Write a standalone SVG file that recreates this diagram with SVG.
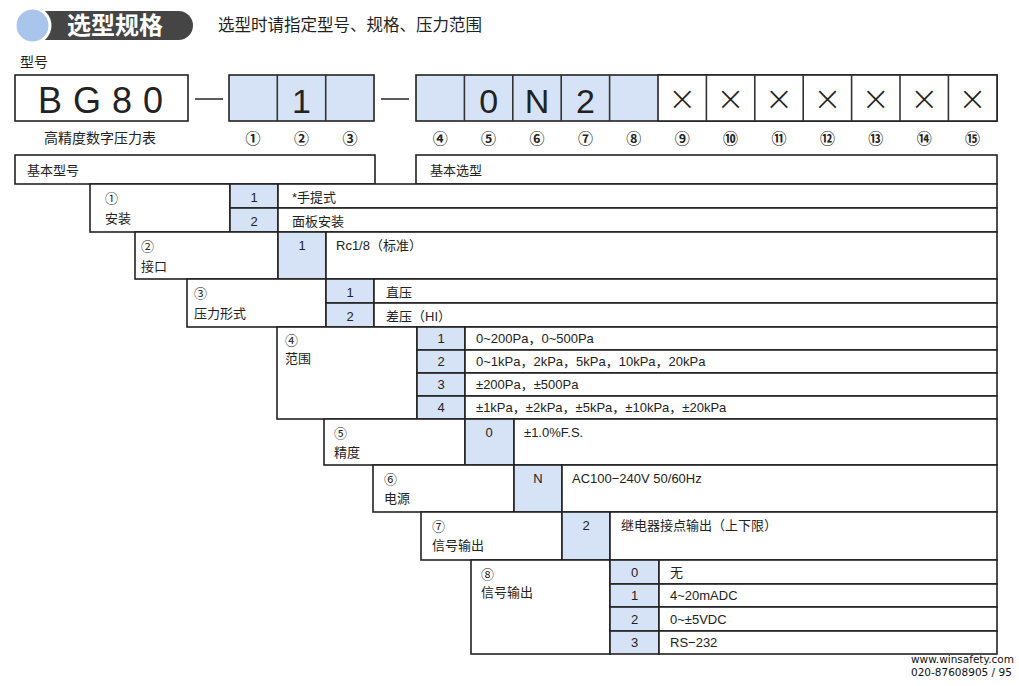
<svg xmlns="http://www.w3.org/2000/svg" width="1019" height="686" viewBox="0 0 1019 686">
<style>
text{font-family:"Liberation Sans","Noto Sans CJK SC",sans-serif;fill:#222}
.cjk{font-family:"Noto Sans CJK SC",sans-serif}
.t{font-size:13px}
.c{text-anchor:middle}
.box{fill:#fff;stroke:#222;stroke-width:1.6}
.blue{fill:#d6e3f6;stroke:#222;stroke-width:1.6}
.code{font-size:34px}
.num{font-family:"Noto Sans CJK SC",sans-serif;font-size:15px;font-weight:bold;text-anchor:middle}
.dash{stroke:#333;stroke-width:1.6}
.foot{font-family:"DejaVu Sans",sans-serif;font-size:10.5px;fill:#111}
.x{font-family:"DejaVu Sans",sans-serif;font-size:34px;font-weight:300;text-anchor:middle}
</style>

<g id="title">
  <rect x="40" y="11" width="153" height="29" rx="14.5" fill="#454545"/>
  <rect x="40" y="11" width="40" height="29" fill="#454545"/>
  <circle cx="32.5" cy="25.5" r="19" fill="#fff"/>
  <circle cx="32.5" cy="25.5" r="16" fill="#aac5ec"/>
  <text x="67" y="34" class="cjk" style="font-size:24px;font-weight:bold;fill:#fff">选型规格</text>
  <text x="218" y="31" class="cjk" style="font-size:16.5px">选型时请指定型号、规格、压力范围</text>
</g>

<g id="model">
  <text x="20" y="67" class="cjk t" style="font-size:14px">型号</text>
  <rect class="box" x="15" y="75" width="173" height="46"/>
  <text x="38" y="113" style="font-size:36px;letter-spacing:11px">BG80</text>
  <text x="100" y="143" class="cjk t c" style="font-size:14px">高精度数字压力表</text>
</g>

<g id="connectors">
  <line class="dash" x1="195" y1="99" x2="223" y2="99"/>
  <line class="dash" x1="381" y1="99" x2="409" y2="99"/>
</g>

<g id="code-group-1">
  <rect class="blue" x="229" y="75" width="145" height="46"/>
  <line class="dash" x1="277.3" y1="75" x2="277.3" y2="121"/>
  <line class="dash" x1="325.7" y1="75" x2="325.7" y2="121"/>
  <text x="301.5" y="113" class="code c">1</text>
  <text x="253" y="144" class="num">①</text>
  <text x="301.5" y="144" class="num">②</text>
  <text x="350" y="144" class="num">③</text>
</g>

<g id="code-group-2">
  <rect class="blue" x="416" y="75" width="581" height="46"/>
  <rect x="658" y="75" width="339" height="46" fill="#fff" stroke="#222" stroke-width="1.6"/>
  <g class="dash">
    <line x1="464.4" y1="75" x2="464.4" y2="121"/>
    <line x1="512.8" y1="75" x2="512.8" y2="121"/>
    <line x1="561.2" y1="75" x2="561.2" y2="121"/>
    <line x1="609.6" y1="75" x2="609.6" y2="121"/>
    <line x1="706.4" y1="75" x2="706.4" y2="121"/>
    <line x1="754.8" y1="75" x2="754.8" y2="121"/>
    <line x1="803.2" y1="75" x2="803.2" y2="121"/>
    <line x1="851.6" y1="75" x2="851.6" y2="121"/>
    <line x1="900" y1="75" x2="900" y2="121"/>
    <line x1="948.4" y1="75" x2="948.4" y2="121"/>
  </g>
  <text x="488.6" y="113" class="code c">0</text>
  <text x="537" y="113" class="code c">N</text>
  <text x="585.4" y="113" class="code c">2</text>
  <text x="682.2" y="110" class="x">×</text>
  <text x="730.6" y="110" class="x">×</text>
  <text x="779" y="110" class="x">×</text>
  <text x="827.4" y="110" class="x">×</text>
  <text x="875.8" y="110" class="x">×</text>
  <text x="924.2" y="110" class="x">×</text>
  <text x="972.6" y="110" class="x">×</text>
  <text x="440.2" y="144" class="num">④</text>
  <text x="488.6" y="144" class="num">⑤</text>
  <text x="537" y="144" class="num">⑥</text>
  <text x="585.4" y="144" class="num">⑦</text>
  <text x="633.8" y="144" class="num">⑧</text>
  <text x="682.2" y="144" class="num">⑨</text>
  <text x="730.6" y="144" class="num">⑩</text>
  <text x="779" y="144" class="num">⑪</text>
  <text x="827.4" y="144" class="num">⑫</text>
  <text x="875.8" y="144" class="num">⑬</text>
  <text x="924.2" y="144" class="num">⑭</text>
  <text x="972.6" y="144" class="num">⑮</text>
</g>

<g id="header-basic-model">
  <rect class="box" x="15" y="155" width="360" height="29"/>
  <text x="27" y="175" class="cjk t">基本型号</text>
</g>
<g id="header-basic-select">
  <rect class="box" x="416" y="155" width="581" height="29"/>
  <text x="430" y="175" class="cjk t">基本选型</text>
</g>

<g id="opt1">
  <rect class="box" x="90" y="184" width="140" height="48"/>
  <text x="105" y="203" class="t cjk">①</text>
  <text x="105" y="223" class="t cjk">安装</text>
  <rect class="blue" x="230" y="184" width="48" height="24"/>
  <rect class="blue" x="230" y="208" width="48" height="24"/>
  <rect class="box" x="278" y="184" width="719" height="24"/>
  <rect class="box" x="278" y="208" width="719" height="24"/>
  <text x="254" y="202" class="t c">1</text>
  <text x="254" y="226" class="t c">2</text>
  <text x="292" y="202" class="t">*手提式</text>
  <text x="292" y="226" class="t">面板安装</text>
</g>

<g id="opt2">
  <rect class="box" x="135" y="232" width="143" height="47"/>
  <text x="141" y="251" class="t cjk">②</text>
  <text x="141" y="271" class="t cjk">接口</text>
  <rect class="blue" x="278" y="232" width="48" height="47"/>
  <rect class="box" x="326" y="232" width="671" height="47"/>
  <text x="302" y="250" class="t c">1</text>
  <text x="336" y="250" class="t">Rc1/8（标准）</text>
</g>

<g id="opt3">
  <rect class="box" x="187" y="279" width="139" height="48"/>
  <text x="194" y="298" class="t cjk">③</text>
  <text x="194" y="318" class="t cjk">压力形式</text>
  <rect class="blue" x="326" y="279" width="48" height="24"/>
  <rect class="blue" x="326" y="303" width="48" height="24"/>
  <rect class="box" x="374" y="279" width="623" height="24"/>
  <rect class="box" x="374" y="303" width="623" height="24"/>
  <text x="350" y="297" class="t c">1</text>
  <text x="350" y="321" class="t c">2</text>
  <text x="386" y="297" class="t">直压</text>
  <text x="386" y="321" class="t">差压（HI）</text>
</g>

<g id="opt4">
  <rect class="box" x="277" y="327" width="140" height="92"/>
  <text x="285" y="345" class="t cjk">④</text>
  <text x="285" y="363" class="t cjk">范围</text>
  <rect class="blue" x="417" y="327" width="48" height="23"/>
  <rect class="blue" x="417" y="350" width="48" height="23"/>
  <rect class="blue" x="417" y="373" width="48" height="23"/>
  <rect class="blue" x="417" y="396" width="48" height="23"/>
  <rect class="box" x="465" y="327" width="532" height="23"/>
  <rect class="box" x="465" y="350" width="532" height="23"/>
  <rect class="box" x="465" y="373" width="532" height="23"/>
  <rect class="box" x="465" y="396" width="532" height="23"/>
  <text x="441" y="343" class="t c">1</text>
  <text x="441" y="366" class="t c">2</text>
  <text x="441" y="389" class="t c">3</text>
  <text x="441" y="412" class="t c">4</text>
  <text x="476" y="343" class="t">0~200Pa，0~500Pa</text>
  <text x="476" y="366" class="t">0~1kPa，2kPa，5kPa，10kPa，20kPa</text>
  <text x="476" y="389" class="t">±200Pa，±500Pa</text>
  <text x="476" y="412" class="t">±1kPa，±2kPa，±5kPa，±10kPa，±20kPa</text>
</g>

<g id="opt5">
  <rect class="box" x="324" y="419" width="141" height="46"/>
  <text x="334" y="438" class="t cjk">⑤</text>
  <text x="334" y="457" class="t cjk">精度</text>
  <rect class="blue" x="465" y="419" width="49" height="46"/>
  <rect class="box" x="514" y="419" width="483" height="46"/>
  <text x="489" y="437" class="t c">0</text>
  <text x="524" y="437" class="t">±1.0%F.S.</text>
</g>

<g id="opt6">
  <rect class="box" x="373" y="465" width="141" height="47"/>
  <text x="384" y="484" class="t cjk">⑥</text>
  <text x="384" y="503" class="t cjk">电源</text>
  <rect class="blue" x="514" y="465" width="48" height="47"/>
  <rect class="box" x="562" y="465" width="435" height="47"/>
  <text x="538" y="483" class="t c">N</text>
  <text x="572" y="483" class="t">AC100−240V  50/60Hz</text>
</g>

<g id="opt7">
  <rect class="box" x="421" y="512" width="141" height="48"/>
  <text x="432" y="531" class="t cjk">⑦</text>
  <text x="432" y="550" class="t cjk">信号输出</text>
  <rect class="blue" x="562" y="512" width="48" height="48"/>
  <rect class="box" x="610" y="512" width="387" height="48"/>
  <text x="586" y="530" class="t c">2</text>
  <text x="621" y="530" class="t">继电器接点输出（上下限）</text>
</g>

<g id="opt8">
  <rect class="box" x="471" y="560" width="139" height="94"/>
  <text x="481" y="579" class="t cjk">⑧</text>
  <text x="481" y="597" class="t cjk">信号输出</text>
  <rect class="blue" x="610" y="560" width="49" height="24"/>
  <rect class="blue" x="610" y="584" width="49" height="23"/>
  <rect class="blue" x="610" y="607" width="49" height="24"/>
  <rect class="blue" x="610" y="631" width="49" height="23"/>
  <rect class="box" x="659" y="560" width="338" height="24"/>
  <rect class="box" x="659" y="584" width="338" height="23"/>
  <rect class="box" x="659" y="607" width="338" height="24"/>
  <rect class="box" x="659" y="631" width="338" height="23"/>
  <text x="634.5" y="577" class="t c">0</text>
  <text x="634.5" y="600" class="t c">1</text>
  <text x="634.5" y="624" class="t c">2</text>
  <text x="634.5" y="647" class="t c">3</text>
  <text x="670" y="577" class="t">无</text>
  <text x="670" y="600" class="t">4~20mADC</text>
  <text x="670" y="624" class="t">0~±5VDC</text>
  <text x="670" y="647" class="t">RS−232</text>
</g>

<g id="footer">
  <text x="911" y="663" class="foot">www.winsafety.com</text>
  <text x="911" y="676" class="foot">020-87608905 / 95</text>
</g>
</svg>
